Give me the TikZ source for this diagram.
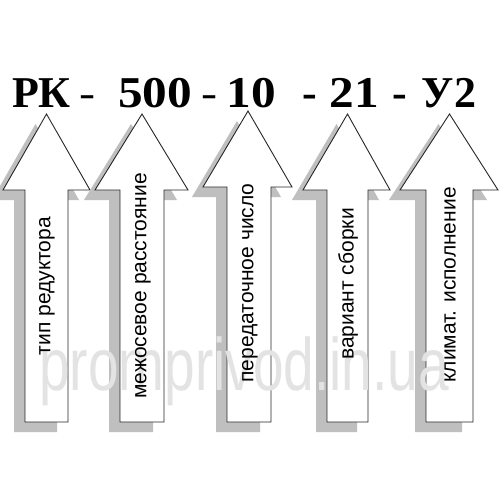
\documentclass[tikz,border=0pt]{standalone}
\usepackage{fontspec}
\setmainfont{Liberation Serif}
\newfontfamily\lsans{Liberation Sans}
\tikzset{
  arrowbody/.style={fill=white, draw=black!85, line width=0.9pt, line join=miter},
  arrowshadow/.style={fill=gray!50},
  lbl/.style={rotate=90, inner sep=0pt, font=\lsans\fontsize{21}{24}\selectfont, text=black},
  ttl/.style={anchor=base, inner sep=0pt, font=\bfseries\fontsize{44}{48}\selectfont, text=black},
  wmark/.style={inner sep=0pt, anchor=base, text=gray!22, font=\lsans\fontsize{55}{58}\selectfont, yscale=1.35}
}
% #1 tip x, #2 tip y, #3 head left, #4 head right, #5 base y, #6 shaft left, #7 shaft right, #8 bottom
\newcommand\myarrowpath[8]{(#1,#2) -- (#4,#5) -- (#7,#5) -- (#7,#8) -- (#6,#8) -- (#6,#5) -- (#3,#5) -- cycle}
\newcommand\myarrow[8]{%
  \fill[arrowshadow, shift={(-11pt,-10pt)}] \myarrowpath{#1}{#2}{#3}{#4}{#5}{#6}{#7}{#8};
  \draw[arrowbody] \myarrowpath{#1}{#2}{#3}{#4}{#5}{#6}{#7}{#8};
}
\begin{document}
\begin{tikzpicture}[x=1pt,y=-1pt]
\useasboundingbox (0,0) rectangle (500,500);
\fill[white] (0,0) rectangle (500,500);
% arrows
\myarrow{46.5}{114}{3}{90}{190}{25}{68}{422}
\myarrow{142}{114}{95}{188}{190}{120}{164}{422}
\myarrow{248}{111}{203}{292}{187}{227}{271}{422}
\myarrow{347.5}{114}{303}{390}{190}{327}{368}{422}
\myarrow{449.5}{114}{400}{498}{190}{426}{473}{422}
% watermark
\node[wmark] (wm) at (244,390) {promprivod.in.ua};
% labels
\node[lbl] (t1) at (47,286) {тип редуктора};
\node[lbl] (t2) at (143,286) {межосевое расстояние};
\node[lbl] (t3) at (250,283) {передаточное число};
\node[lbl] (t4) at (348,284) {вариант сборки};
\node[lbl] (t5) at (450,285) {климат. исполнение};
% title
\node[ttl] (h1) at (41.5,107) {РК};
\node[ttl] (h2) at (87.5,107) {\scalebox{0.55}[1]{–}};
\node[ttl] (h3) at (155,107) {\scalebox{1.12}[1]{500}};
\node[ttl] (h4) at (210,107) {\scalebox{0.55}[1]{–}};
\node[ttl] (h5) at (251.5,107) {\scalebox{1.12}[1]{10}};
\node[ttl] (h6) at (310,107) {-};
\node[ttl] (h7) at (354,107) {\scalebox{1.12}[1]{21}};
\node[ttl] (h8) at (400,107) {-};
\node[ttl] (h9) at (449,107) {У2};
\end{tikzpicture}
\end{document}
